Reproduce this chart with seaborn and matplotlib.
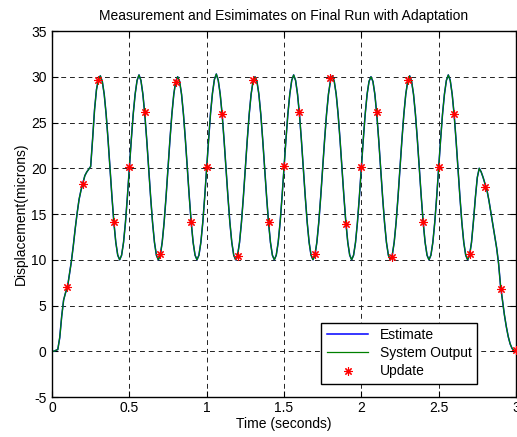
import numpy as np
import matplotlib
matplotlib.use('Agg')
import matplotlib.pyplot as plt
import seaborn as sns

start_part = [0.0, 0.0, 0.1, 0.2, 1.5, 3.8, 5.6, 6.4, 7.0, 8.4, 9.8, 11.5, 13.4,
              15.1, 16.6, 17.6, 18.4, 19.2, 19.6, 19.9, 20.2, 23.2, 26.4, 28.6, 29.7]
middle_part = [
    30.1, 29.5, 28.1, 25.9, 23.1, 20.0, 16.9, 14.1, 11.9, 10.5, 10.0, 10.5, 11.9, 14.1, 16.9, 20.0, 23.1, 25.9, 28.1, 29.6,
    30.2, 29.6, 28.1, 25.9, 23.1, 20.0, 16.9, 14.1, 11.9, 10.5, 10.0, 10.5, 11.9, 14.1, 16.9, 20.0, 23.1, 25.9, 28.1, 29.5,
    30.0, 29.5, 28.1, 25.9, 23.1, 20.0, 16.9, 14.1, 11.9, 10.5, 10.0, 10.5, 11.9, 14.1, 16.9, 20.0, 23.1, 26.0, 28.2, 29.7,
    30.3, 29.6, 28.1, 25.9, 23.1, 20.0, 16.9, 14.1, 11.9, 10.5, 10.0, 10.5, 11.9, 14.1, 16.9, 20.0, 23.1, 25.9, 28.1, 29.5,
    30.0, 29.5, 28.1, 25.9, 23.1, 20.0, 16.9, 14.1, 11.9, 10.5, 10.0, 10.5, 11.9, 14.1, 16.9, 20.0, 23.1, 25.9, 28.1, 29.6,
    30.2, 29.6, 28.1, 25.9, 23.1, 20.0, 16.9, 14.1, 11.9, 10.5, 10.0, 10.5, 11.9, 14.1, 16.9, 20.0, 23.1, 25.9, 28.1, 29.5,
    30.1, 29.5, 28.1, 25.9, 23.1, 20.0, 16.9, 14.1, 11.9, 10.5, 10.0, 10.5, 11.9, 14.1, 16.9, 20.0, 23.1, 25.9, 28.1, 29.5,
    30.0, 29.5, 28.1, 25.9, 23.1, 20.0, 16.9, 14.1, 11.9, 10.5, 10.0, 10.5, 11.9, 14.1, 16.9, 20.0, 23.1, 25.9, 28.1, 29.5,
    30.1, 29.5, 28.1, 25.9, 23.1, 20.0, 16.9, 14.1, 11.9, 10.5, 10.0, 10.5, 11.9, 14.1, 16.9, 20.0, 23.1, 25.9, 28.1, 29.6,
    30.2, 29.6, 28.1, 25.9, 23.1, 20.0, 16.9, 14.1, 11.9, 10.5, 10.0,
]
end_part = [10.5, 11.9, 14.2, 16.8, 19.0, 20.0, 19.6, 19.0, 18.3, 17.6, 16.5, 15.2, 13.9,
            12.6, 11.3, 9.6, 7.2, 5.6, 4.0, 2.7, 1.6, 0.8, 0.3, 0.1, 0.0]
system_output = start_part + middle_part + end_part
estimate = list(system_output)  # lies on top of the system output
time = np.linspace(0, 3, len(system_output))

# update points (red asterisks)
update_t = [0.1, 0.2, 0.3, 0.4, 0.5, 0.6, 0.7, 0.8, 0.9, 1.0,
            1.1, 1.2, 1.3, 1.4, 1.5, 1.6, 1.7, 1.8, 1.9, 2.0,
            2.1, 2.2, 2.3, 2.4, 2.5, 2.6, 2.7, 2.8, 2.9, 3.0]
update_v = [7.0, 18.3, 29.6, 14.1, 20.1, 26.1, 10.6, 29.4, 14.1, 20.1,
            25.9, 10.4, 29.7, 14.1, 20.3, 26.1, 10.6, 29.9, 13.9, 20.1,
            26.1, 10.3, 29.6, 14.1, 20.1, 25.9, 10.6, 18.0, 6.8, 0.1]

xtick_vals = [0, 0.5, 1, 1.5, 2, 2.5, 3]
xtick_labels = ['0', '0.5', '1', '1.5', '2', '2.5', '3']
ytick_vals = [-5, 0, 5, 10, 15, 20, 25, 30, 35]

plt.rcParams['font.family'] = ['Liberation Sans', 'DejaVu Sans']
plt.rcParams['font.size'] = 10
plt.rcParams['axes.unicode_minus'] = False

fig = plt.figure(figsize=(5.17, 4.37), dpi=100)
ax = fig.add_axes([0.1006, 0.0915, 0.8974, 0.8375])

sns.lineplot(x=time, y=estimate, color='#0000ff', linewidth=1.1, label='Estimate', estimator=None, ax=ax)
sns.lineplot(x=time, y=system_output, color='#008000', linewidth=0.9, label='System Output', estimator=None, ax=ax)
ax.plot(update_t, update_v, linestyle='none', marker=(8, 2, 0), color='red',
        markersize=6, markeredgewidth=0.8, label='Update', clip_on=False, zorder=5)

ax.set_xlim(0, 3)
ax.set_ylim(-5, 35)
ax.set_xticks(xtick_vals)
ax.set_xticklabels(xtick_labels)
ax.set_yticks(ytick_vals)
ax.tick_params(direction='in', top=True, right=True, length=4, width=0.8, labelsize=10)
ax.tick_params(axis='y', pad=4)
ax.tick_params(axis='x', pad=3)
ax.grid(True, color='#222222', linestyle=(0, (5, 4)), linewidth=0.7)
for sp in ax.spines.values():
    sp.set_linewidth(1.0)
    sp.set_color('black')

ax.set_title('Measurement and Esimimates on Final Run with Adaptation', fontsize=10, pad=8)
ax.set_xlabel('Time (seconds)', fontsize=10, labelpad=1)
ax.set_ylabel('Displacement(microns)', fontsize=10, labelpad=2)

leg = ax.legend(loc='lower right', bbox_to_anchor=(0.916, 0.0355), borderaxespad=0,
                fancybox=False, edgecolor='black', framealpha=1, handlelength=3.0,
                labelspacing=0.3, borderpad=0.4, fontsize=10)
leg.get_frame().set_linewidth(1.0)

fig.savefig('out.png', dpi=100)
